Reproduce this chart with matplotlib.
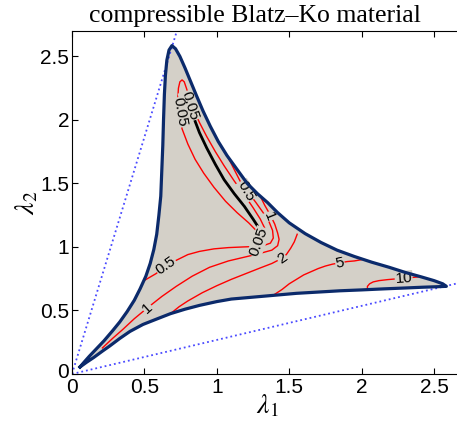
import matplotlib
matplotlib.use('Agg')
import matplotlib.pyplot as plt
import matplotlib.transforms as mtransforms

plt.rcParams['font.family'] = ['Liberation Sans', 'DejaVu Sans']
plt.rcParams['mathtext.fontset'] = 'stix'

# boundary of the region
lower_x = [0.055, 0.10, 0.15, 0.21, 0.26, 0.33, 0.40, 0.49, 0.59, 0.68, 0.78, 0.88, 1.0, 1.1, 1.2,
           1.3, 1.4, 1.55, 1.7, 1.85, 2.0, 2.15, 2.3, 2.42, 2.52, 2.585]
lower_y = [0.055, 0.092, 0.13, 0.18, 0.22, 0.28, 0.335, 0.39, 0.435, 0.475, 0.51, 0.54, 0.57, 0.59, 0.60,
           0.61, 0.62, 0.635, 0.645, 0.655, 0.662, 0.67, 0.677, 0.683, 0.687, 0.69]
upper_x = [2.585, 2.56, 2.50, 2.41, 2.30, 2.19, 2.07, 1.95, 1.83, 1.72, 1.61, 1.50, 1.42, 1.35, 1.28,
           1.21, 1.14, 1.07, 1.01, 0.955, 0.905, 0.86, 0.82, 0.78, 0.745, 0.715, 0.69]
upper_y = [0.69, 0.71, 0.735, 0.765, 0.80, 0.84, 0.88, 0.925, 0.975, 1.035, 1.105, 1.19, 1.27, 1.35, 1.42,
           1.50, 1.61, 1.72, 1.83, 1.95, 2.07, 2.19, 2.30, 2.41, 2.50, 2.56, 2.585]
left_x = [0.69, 0.67, 0.655, 0.645, 0.638, 0.632, 0.627, 0.62, 0.613, 0.60, 0.585, 0.565, 0.54, 0.51,
          0.47, 0.43, 0.38, 0.33, 0.28, 0.22, 0.17, 0.12, 0.085, 0.055]
left_y = [2.585, 2.55, 2.47, 2.35, 2.2, 2.0, 1.8, 1.6, 1.4, 1.25, 1.1, 0.98, 0.87, 0.77,
          0.67, 0.58, 0.49, 0.41, 0.34, 0.26, 0.20, 0.14, 0.095, 0.055]

# dotted rays from the origin
ray1_x, ray1_y = [0, 0.724], [0, 2.7]
ray2_x, ray2_y = [0, 2.7], [0, 0.724]

# contour lines (red)
c005_x = [1.32, 1.28, 1.22, 1.14, 1.06, 0.98, 0.91, 0.85, 0.80, 0.76, 0.74, 0.73, 0.735, 0.745, 0.76,
          0.775, 0.79, 0.81, 0.84, 0.88, 0.93, 0.99, 1.05, 1.12, 1.19, 1.25, 1.30, 1.33, 1.34, 1.33]
c005_y = [1.06, 1.12, 1.19, 1.27, 1.36, 1.47, 1.58, 1.69, 1.81, 1.93, 2.05, 2.16, 2.25, 2.30, 2.315,
          2.30, 2.25, 2.18, 2.08, 1.98, 1.87, 1.75, 1.64, 1.52, 1.41, 1.31, 1.22, 1.15, 1.10, 1.07]
c05_x = [1.08, 1.12, 1.16, 1.21, 1.27, 1.32, 1.36, 1.385, 1.39, 1.37, 1.32, 1.25, 1.18, 1.08, 0.98,
         0.88, 0.80, 0.72, 0.65, 0.58, 0.505]
c05_y = [1.70, 1.61, 1.52, 1.44, 1.35, 1.27, 1.20, 1.13, 1.07, 1.03, 1.01, 1.003, 1.0, 0.995, 0.985,
         0.965, 0.94, 0.895, 0.85, 0.79, 0.74]
c1_x = [0.21, 0.28, 0.35, 0.43, 0.52, 0.62, 0.72, 0.83, 0.95, 1.08, 1.21, 1.30, 1.38, 1.42, 1.43, 1.42,
        1.40, 1.37, 1.33, 1.30]
c1_y = [0.205, 0.28, 0.35, 0.435, 0.52, 0.61, 0.69, 0.77, 0.84, 0.89, 0.925, 0.95, 0.975, 1.01, 1.06, 1.11,
        1.18, 1.25, 1.33, 1.40]
c2_x = [0.68, 0.74, 0.80, 0.90, 1.0, 1.1, 1.2, 1.30, 1.38, 1.44, 1.48, 1.51, 1.535, 1.555]
c2_y = [0.475, 0.53, 0.575, 0.64, 0.695, 0.745, 0.79, 0.835, 0.87, 0.905, 0.94, 0.99, 1.04, 1.10]
c5_x = [1.39, 1.45, 1.50, 1.55, 1.60, 1.65, 1.70, 1.75, 1.80, 1.85, 1.90, 1.95, 2.0]
c5_y = [0.62, 0.665, 0.71, 0.745, 0.78, 0.805, 0.83, 0.85, 0.865, 0.875, 0.885, 0.89, 0.90]
c10_x = [2.04, 2.04, 2.055, 2.08, 2.12, 2.18, 2.25, 2.32, 2.37, 2.40]
c10_y = [0.665, 0.69, 0.71, 0.725, 0.735, 0.743, 0.75, 0.757, 0.762, 0.765]

# black curve
blk_x = [0.84, 0.88, 0.93, 0.99, 1.05, 1.12, 1.19, 1.25, 1.29, 1.31]
blk_y = [2.02, 1.90, 1.78, 1.65, 1.53, 1.42, 1.32, 1.22, 1.15, 1.10]

# contour labels: text, x, y, angle
lab_text = ['0.05', '0.05', '0.5', '0.5', '1', '1', '0.05', '2', '5', '10']
lab_x = [0.81, 0.745, 1.20, 0.65, 1.36, 0.52, 1.29, 1.45, 1.85, 2.29]
lab_y = [2.11, 2.06, 1.44, 0.85, 1.24, 0.52, 1.04, 0.91, 0.875, 0.755]
lab_rot = [-72, -80, -60, 35, -68, 42, 70, 35, 12, 4]

fill_col = '#d4d0c8'
navy = '#0b2a6b'

fig = plt.figure(figsize=(4.57, 4.26), dpi=100)
ax = fig.add_axes([72 / 457, 52 / 426, 391 / 457, 343 / 426])

ax.plot(ray1_x, ray1_y, ':', color='#4a4aff', lw=1.3)
ax.plot(ray2_x, ray2_y, ':', color='#4a4aff', lw=1.3)

bx = lower_x + upper_x[1:] + left_x[1:]
by = lower_y + upper_y[1:] + left_y[1:]
ax.fill(bx, by, color=fill_col, zorder=1)

for cx, cy in [(c005_x, c005_y), (c05_x, c05_y), (c1_x, c1_y),
               (c2_x, c2_y), (c5_x, c5_y), (c10_x, c10_y)]:
    ax.plot(cx, cy, color='red', lw=1, zorder=2)
ax.plot(blk_x, blk_y, color='black', lw=2, zorder=3)

for t, x, y, r in zip(lab_text, lab_x, lab_y, lab_rot):
    ax.text(x, y, t, rotation=r, ha='center', va='center', fontsize=11,
            bbox=dict(facecolor=fill_col, edgecolor='none', pad=0.3), zorder=4)

ax.plot(bx, by, color=navy, lw=2.3, zorder=5, solid_joinstyle='round')

ax.set_xlim(0, 2.7)
ax.set_ylim(0, 2.7)
ax.set_xticks([0, 0.5, 1, 1.5, 2, 2.5])
ax.set_yticks([0, 0.5, 1, 1.5, 2, 2.5])
ax.set_xticklabels(['0', '0.5', '1', '1.5', '2', '2.5'])
ax.set_yticklabels(['0', '0.5', '1', '1.5', '2', '2.5'])
ax.tick_params(direction='in', top=True, right=True, labelsize=15, length=4)
ax.tick_params(axis='x', pad=3)
ax.tick_params(axis='y', pad=2)

# nudge the y "0" up a little so it clears the x "0"
ylab0 = ax.get_yticklabels()[0]
ylab0.set_transform(ylab0.get_transform() + mtransforms.ScaledTranslation(0, 4 / 100, fig.dpi_scale_trans))

fig.text(255 / 457, 1 - 16 / 426, 'compressible Blatz\u2013Ko material', family='Liberation Serif',
         fontsize=18.5, ha='center', va='center')
ax.set_xlabel(r'$\lambda_1$', fontsize=20, labelpad=-3)
ax.set_ylabel(r'$\lambda_2$', fontsize=20, labelpad=0)

fig.savefig('out.png', dpi=100)
